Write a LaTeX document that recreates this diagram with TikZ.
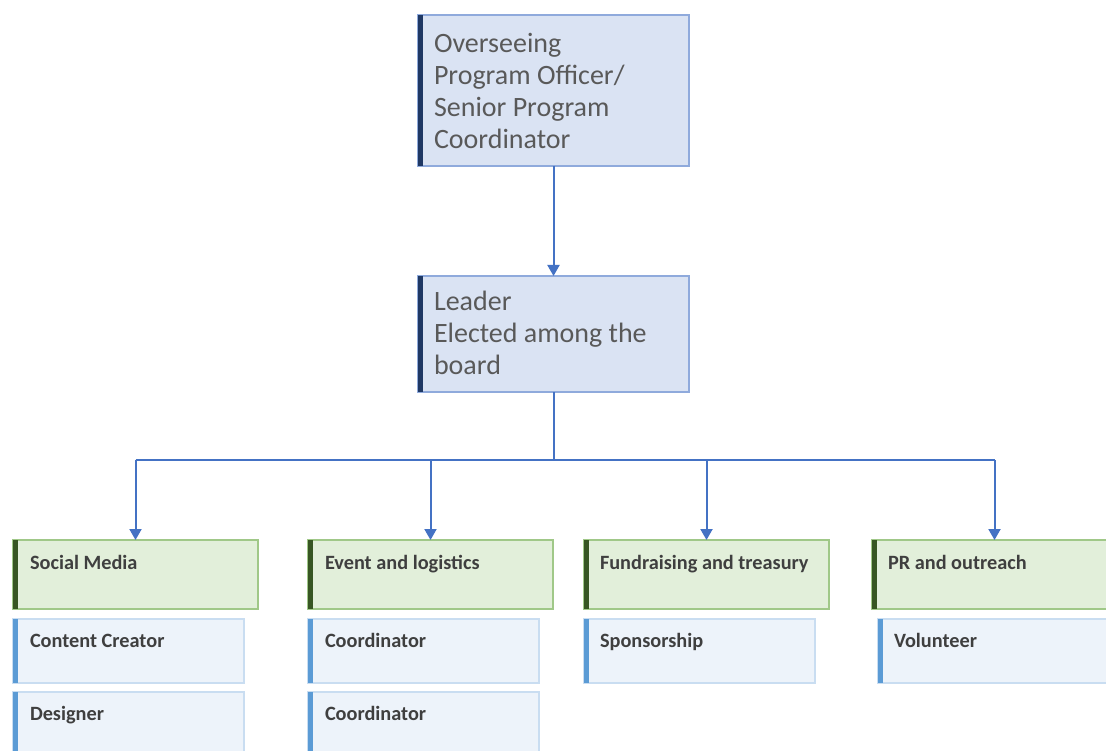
\documentclass[tikz,border=0pt]{standalone}
\usepackage{fontspec}
\setmainfont{Carlito}
\usetikzlibrary{arrows.meta}
\definecolor{navy}{HTML}{1F3864}
\definecolor{topfill}{HTML}{DAE3F3}
\definecolor{topbord}{HTML}{8FAADC}
\definecolor{gfill}{HTML}{E2EFDA}
\definecolor{gbord}{HTML}{A0C888}
\definecolor{gbar}{HTML}{375623}
\definecolor{bfill}{HTML}{EDF3FA}
\definecolor{bbord}{HTML}{C9DDF1}
\definecolor{bbar}{HTML}{5B9BD5}
\definecolor{arrowc}{HTML}{4472C4}
\definecolor{txtg}{HTML}{595959}
\definecolor{txtd}{HTML}{3F3F3F}
\begin{document}
\begin{tikzpicture}[x=1pt,y=-1pt,
  every node/.style={inner sep=0pt,outer sep=0pt},
  topbox/.style={draw=topbord,fill=topfill,line width=1.8pt,rectangle,anchor=north west},
  grpbox/.style={draw=gbord,fill=gfill,line width=1.8pt,rectangle,anchor=north west,minimum width=245pt,minimum height=69pt},
  subbox/.style={draw=bbord,fill=bfill,line width=1.2pt,rectangle,anchor=north west,minimum width=231pt,minimum height=64pt},
  toptext/.style={text=txtg,align=left,font=\fontsize{28}{32}\selectfont,anchor=west},
  gtext/.style={text=txtd,font=\fontsize{20.3}{24}\selectfont\bfseries,anchor=base west},
  line/.style={draw=arrowc,line width=2pt},
  conn/.style={line,-{Triangle[length=11pt,width=12pt]}}
]
\useasboundingbox (0,0) rectangle (1106,751);
\clip (0,0) rectangle (1106,751);
\fill[white] (0,0) rectangle (1106,751);

% top box
\node[topbox,minimum width=271pt,minimum height=151pt] (top) at (418,15) {};
\fill[navy] (top.north west) rectangle ([xshift=5pt]top.south west);
\node[toptext] (toptxt) at ([xshift=16pt]top.west) {Overseeing\\Program Officer/\\Senior Program\\Coordinator};

% leader box
\node[topbox,minimum width=271pt,minimum height=116pt] (lead) at (418,276) {};
\fill[navy] (lead.north west) rectangle ([xshift=5pt]lead.south west);
\node[toptext] (leadtxt) at ([xshift=16pt,yshift=1pt]lead.west) {Leader\\Elected among the\\board};

% group boxes
\node[grpbox] (sm) at (13,540) {};
\node[grpbox] (ev) at (308,540) {};
\node[grpbox] (fr) at (584,540) {};
\node[grpbox] (pr) at (872,540) {};
\foreach \n in {sm,ev,fr,pr}{
  \fill[gbar] (\n.north west) rectangle ([xshift=5pt]\n.south west);
}
\node[gtext] (smt) at ([xshift=17pt,yshift=-29pt]sm.north west) {Social Media};
\node[gtext] (evt) at ([xshift=17pt,yshift=-29pt]ev.north west) {Event and logistics};
\node[gtext] (frt) at ([xshift=16pt,yshift=-29pt]fr.north west) {Fundraising and treasury};
\node[gtext] (prt) at ([xshift=16pt,yshift=-29pt]pr.north west) {PR and outreach};

% sub boxes
\node[subbox] (cc) at (13,619) {};
\node[subbox] (ds) at (13,692) {};
\node[subbox] (c1) at (308,619) {};
\node[subbox] (c2) at (308,692) {};
\node[subbox] (sp) at (584,619) {};
\node[subbox] (vo) at (878,619) {};
\foreach \n in {cc,ds,c1,c2,sp,vo}{
  \fill[bbar] (\n.north west) rectangle ([xshift=5pt]\n.south west);
}
\node[gtext] (cct) at ([xshift=17pt,yshift=-28pt]cc.north west) {Content Creator};
\node[gtext] (dst) at ([xshift=17pt,yshift=-28pt]ds.north west) {Designer};
\node[gtext] (c1t) at ([xshift=17pt,yshift=-28pt]c1.north west) {Coordinator};
\node[gtext] (c2t) at ([xshift=17pt,yshift=-28pt]c2.north west) {Coordinator};
\node[gtext] (spt) at ([xshift=16pt,yshift=-28pt]sp.north west) {Sponsorship};
\node[gtext] (vot) at ([xshift=16pt,yshift=-28pt]vo.north west) {Volunteer};

% connectors
\draw[conn] (top.south) -- (lead.north);
\path (lead.south) ++(0,68) coordinate (bus);
\draw[line] (lead.south) -- (bus);
\draw[line] (sm.north |- bus) -- (pr.north |- bus);
\foreach \n in {sm,ev,fr,pr}{
  \draw[conn] (\n.north |- bus) -- (\n.north);
}
\end{tikzpicture}
\end{document}
